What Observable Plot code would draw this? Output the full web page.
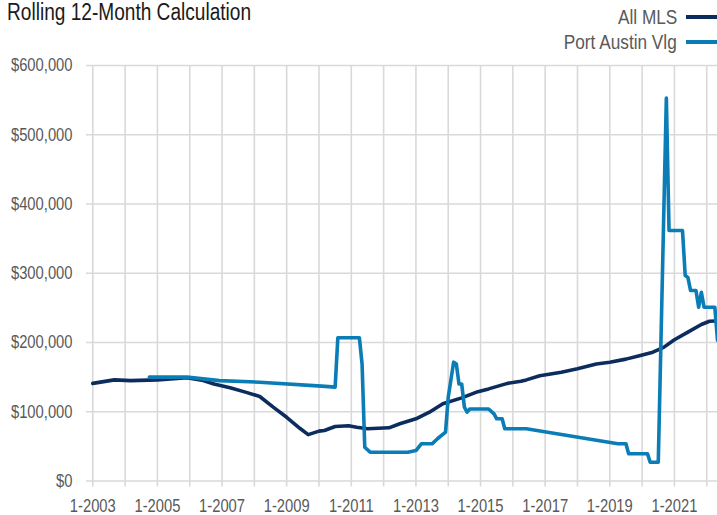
<!DOCTYPE html>
<html>
<head>
<meta charset="utf-8">
<script src="https://cdn.jsdelivr.net/npm/d3@7"></script>
<script src="https://cdn.jsdelivr.net/npm/@observablehq/plot@0.6"></script>
<style>
  html, body { margin: 0; padding: 0; background: #fff; }
  #wrap { position: relative; width: 717px; height: 515px; overflow: hidden;
          font-family: "Liberation Sans", Arial, sans-serif; }
  #title { position: absolute; left: 7px; top: -1px; font-size: 23px; color: #1a1a1a; white-space: nowrap;
           transform: scaleX(0.83); transform-origin: 0 0; }
  .leg { position: absolute; right: 0; height: 24px; display: flex; align-items: center; font-size: 21px; color: #595959; white-space: nowrap; }
  .leg .txt { display: inline-block; transform: scaleX(0.82); transform-origin: 100% 50%; }
  .leg .sw { display: inline-block; width: 31px; height: 4px; margin-left: 9px; }
  #chart { position: absolute; left: 0; top: 0; }
</style>
</head>
<body>
<div id="wrap">
  <div id="chart"></div>
  <div id="title">Rolling 12-Month Calculation</div>
  <div class="leg" style="top:5px;"><span class="txt">All MLS</span><span class="sw" style="background:#0c2c5e"></span></div>
  <div class="leg" style="top:30px;"><span class="txt">Port Austin Vlg</span><span class="sw" style="background:#0b7db6"></span></div>
</div>
<script>
// Series names
const seriesNames = ["All MLS", "Port Austin Vlg"];

// All MLS rolling 12-month values
const allMlsMonths = ["2003-01","2003-09","2004-03","2005-01","2005-12","2006-06","2006-10","2007-04","2007-10","2008-03","2008-08","2009-01","2009-06","2009-09","2010-01","2010-03","2010-07","2010-12","2011-03","2011-07","2012-03","2012-07","2013-01","2013-06","2013-11","2014-06","2014-12","2015-04","2015-11","2016-04","2016-06","2016-11","2017-07","2018-01","2018-08","2019-01","2019-07","2019-12","2020-05","2020-09","2021-01","2021-06","2021-11","2022-02","2022-04"];
const allMlsValues = [141000,146000,145000,146000,149000,145000,140000,134600,128000,122000,106600,92000,75800,67000,72000,73000,78700,79700,77700,75400,76800,82600,89800,99400,111500,120000,129000,133000,141000,144000,146000,152000,157000,162000,169000,171600,176000,181000,186000,193000,204000,215000,226000,230700,231000];

// Port Austin Vlg rolling 12-month values
const paMonths = ["2004-10","2005-12","2006-12","2008-03","2010-02","2010-07","2010-08","2011-04","2011-05","2011-06","2011-08","2012-10","2013-01","2013-03","2013-07","2013-09","2013-12","2014-01","2014-03","2014-04","2014-05","2014-06","2014-07","2014-08","2014-09","2015-04","2015-06","2015-07","2015-09","2015-10","2016-06","2019-04","2019-07","2019-08","2020-03","2020-04","2020-07","2020-10","2020-11","2021-04","2021-05","2021-06","2021-07","2021-09","2021-10","2021-11","2021-12","2022-04","2022-05"];
const paValues = [150000,150000,145000,142700,137000,135500,206800,206800,169000,48800,41600,41600,44000,53700,53700,61000,70500,121000,171600,169000,140000,140000,106600,99400,104000,104000,97000,89800,89800,75400,75400,53700,53700,39300,39300,27000,27000,553000,361700,361700,296800,294000,275000,275000,251000,272600,251000,251000,203000];

// Axis ticks
const gridYears = d3.range(2003, 2023);
const labelYears = [2003,2005,2007,2009,2011,2013,2015,2017,2019,2021];
const yTicks = [0,100000,200000,300000,400000,500000,600000];

const toYear = s => +s.slice(0,4) + (+s.slice(5,7) - 1) / 12;
const data = [
  ...allMlsMonths.map((m, i) => ({series: seriesNames[0], t: toYear(m), v: allMlsValues[i]})),
  ...paMonths.map((m, i) => ({series: seriesNames[1], t: toYear(m), v: paValues[i]}))
];

const chart = Plot.plot({
  width: 717,
  height: 515,
  marginLeft: 86,
  marginRight: 0,
  marginTop: 65,
  marginBottom: 34.5,
  style: {fontFamily: '"Liberation Sans", Arial, sans-serif', fontSize: "18px", color: "#595959", background: "transparent"},
  x: {domain: [2002.805, 2022.333]},
  y: {domain: [0, 600000]},
  color: {domain: seriesNames, range: ["#0c2c5e", "#0b7db6"]},
  marks: [
    Plot.ruleX(gridYears, {y1: 0, y2: 600000, stroke: "#d9d9d9", strokeWidth: 1.6}),
    Plot.ruleY(yTicks, {stroke: "#d9d9d9", strokeWidth: 1.6}),
    Plot.axisX({ticks: gridYears, tickSize: 6, tickFormat: () => "", stroke: "#d9d9d9", strokeWidth: 1.6, label: null}),
    Plot.axisX({ticks: labelYears, tickSize: 0, tickPadding: 18, tickFormat: d => "1-" + d, fill: "#595959", label: null}),
    Plot.axisY({ticks: yTicks, tickSize: 0, tickPadding: 14, tickFormat: d => "$" + d3.format(",")(d), fill: "#595959", label: null}),
    Plot.lineY(data, {x: "t", y: "v", z: "series", stroke: "series", strokeWidth: 3.6, curve: "linear"})
  ]
});
document.getElementById("chart").appendChild(chart);
// condense the tick label glyphs to mimic a narrow typeface
chart.querySelectorAll("text").forEach(t => {
  const w = t.getComputedTextLength();
  if (w > 0) {
    t.setAttribute("textLength", (w * 0.82).toFixed(2));
    t.setAttribute("lengthAdjust", "spacingAndGlyphs");
  }
});
</script>
</body>
</html>
